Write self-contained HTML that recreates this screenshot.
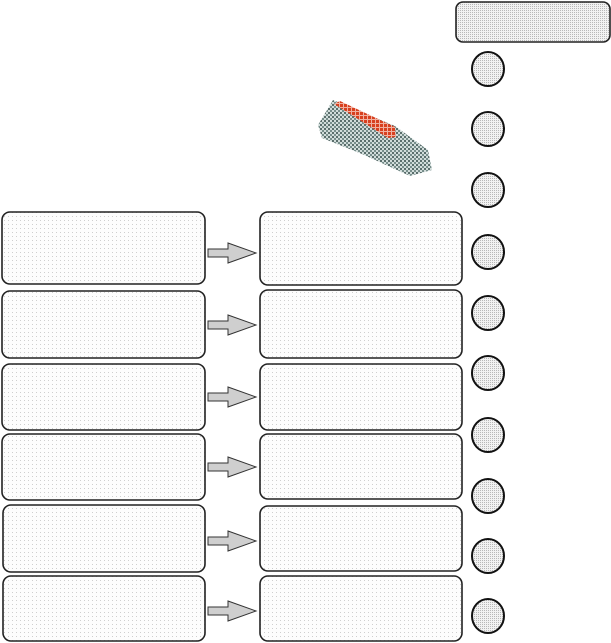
<!DOCTYPE html>
<html><head><meta charset="utf-8"><style>
html,body{margin:0;padding:0;background:#fff;width:611px;height:643px;overflow:hidden}
</style></head><body>
<svg width="611" height="643" viewBox="0 0 611 643" xmlns="http://www.w3.org/2000/svg">
<defs>
<pattern id="dots" width="4" height="4" patternUnits="userSpaceOnUse">
<rect width="4" height="4" fill="#fdfdfd"/><rect width="1" height="1" fill="#cfcfcf"/></pattern>
<pattern id="dots2" width="2" height="2" patternUnits="userSpaceOnUse">
<rect width="2" height="2" fill="#f2f2f2"/><rect width="1" height="1" fill="#b8b8b8"/></pattern>
<pattern id="shoe" width="4" height="4" patternUnits="userSpaceOnUse">
<rect width="4" height="4" fill="#c9d6d4"/><rect width="2" height="2" fill="#3d5552"/><rect x="2" y="2" width="2" height="2" fill="#5f7a76"/></pattern>
<pattern id="red" width="4" height="4" patternUnits="userSpaceOnUse">
<rect width="4" height="4" fill="#f0b0a0"/><rect width="3" height="3" fill="#d8401f"/></pattern>
</defs>
<g stroke="#222" stroke-width="1.6" fill="url(#dots)">
<rect x="456" y="2" width="154" height="40" rx="7" fill="url(#dots2)"/>
<rect x="2" y="212" width="203" height="72" rx="8"/>
<rect x="2" y="291" width="203" height="67" rx="8"/>
<rect x="2" y="364" width="203" height="66" rx="8"/>
<rect x="2" y="434" width="203" height="66" rx="8"/>
<rect x="3" y="505" width="202" height="67" rx="8"/>
<rect x="3" y="576" width="202" height="65" rx="8"/>
<rect x="260" y="212" width="202" height="73" rx="8"/>
<rect x="260" y="290" width="202" height="68" rx="8"/>
<rect x="260" y="364" width="202" height="66" rx="8"/>
<rect x="260" y="434" width="202" height="65" rx="8"/>
<rect x="260" y="506" width="202" height="65" rx="8"/>
<rect x="260" y="576" width="202" height="65" rx="8"/>
</g>
<g stroke="#111" stroke-width="2" fill="url(#dots2)">
<ellipse cx="488" cy="69" rx="16" ry="17"/>
<ellipse cx="488" cy="129" rx="16" ry="17"/>
<ellipse cx="488" cy="190" rx="16" ry="17"/>
<ellipse cx="488" cy="252" rx="16" ry="17"/>
<ellipse cx="488" cy="313" rx="16" ry="17"/>
<ellipse cx="488" cy="373" rx="16" ry="17"/>
<ellipse cx="488" cy="435" rx="16" ry="17"/>
<ellipse cx="488" cy="496" rx="16" ry="17"/>
<ellipse cx="488" cy="556" rx="16" ry="17"/>
<ellipse cx="488" cy="616" rx="16" ry="17"/>
</g>
<g stroke="#333" stroke-width="1" fill="#cfcfcf">
<path d="M208 249h20v-6l28 10l-28 10v-6h-20z"/>
<path d="M208 321h20v-6l28 10l-28 10v-6h-20z"/>
<path d="M208 393h20v-6l28 10l-28 10v-6h-20z"/>
<path d="M208 463h20v-6l28 10l-28 10v-6h-20z"/>
<path d="M208 537h20v-6l28 10l-28 10v-6h-20z"/>
<path d="M208 607h20v-6l28 10l-28 10v-6h-20z"/>
</g>
<polygon points="318,125 333,100 395,126 428,150 432,170 410,176 362,154 322,138" fill="url(#shoe)" opacity="0.85"/>
<polygon points="334,104 340,101 395,127 396,137 388,138" fill="url(#red)"/>
</svg>
</body></html>
